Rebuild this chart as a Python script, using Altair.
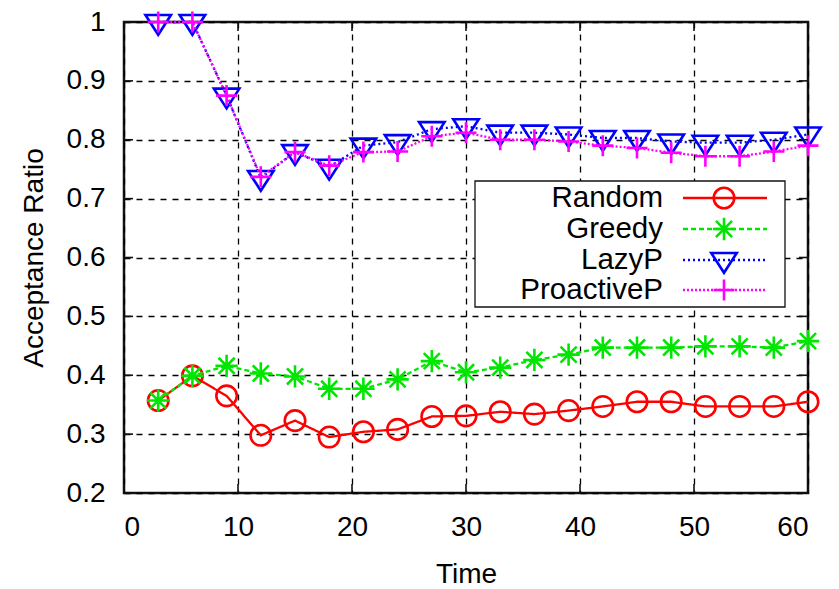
import altair as alt
import pandas as pd

# ---- data -------------------------------------------------------------
time = [3, 6, 9, 12, 15, 18, 21, 24, 27, 30, 33, 36, 39, 42, 45, 48, 51, 54, 57, 60]

random_ratio = [0.357, 0.399, 0.365, 0.298, 0.323, 0.295, 0.304, 0.308, 0.330, 0.331,
                0.338, 0.334, 0.340, 0.347, 0.355, 0.355, 0.347, 0.347, 0.347, 0.355]
greedy_ratio = [0.357, 0.399, 0.416, 0.403, 0.398, 0.377, 0.377, 0.393, 0.424, 0.405,
                0.413, 0.426, 0.435, 0.447, 0.447, 0.447, 0.449, 0.449, 0.447, 0.458]
lazyp_ratio = [1.000, 1.000, 0.875, 0.735, 0.779, 0.754, 0.790, 0.796, 0.818, 0.823,
               0.812, 0.812, 0.809, 0.803, 0.803, 0.797, 0.795, 0.795, 0.800, 0.809]
proactivep_ratio = [1.000, 1.000, 0.875, 0.737, 0.779, 0.756, 0.779, 0.780, 0.806, 0.812,
                    0.800, 0.800, 0.797, 0.790, 0.786, 0.778, 0.772, 0.772, 0.780, 0.790]

series_names = ["Random", "Greedy", "LazyP", "ProactiveP"]
series_values = [random_ratio, greedy_ratio, lazyp_ratio, proactivep_ratio]

x_ticks = [0, 10, 20, 30, 40, 50, 60]
y_ticks = [0.2, 0.3, 0.4, 0.5, 0.6, 0.7, 0.8, 0.9, 1.0]

# ---- layout and styles ------------------------------------------------
W, H = 684, 471
FONT = "Liberation Sans"

STAR = "M-1,0L1,0M0,-1L0,1M-0.72,-0.72L0.72,0.72M-0.72,0.72L0.72,-0.72"
TRI_DOWN = "M-1,-0.55L1,-0.55L0,1Z"
PLUS = "M-1,0L1,0M0,-1L0,1"

styles = {
    "Random": dict(color="#ff0000", dash=[1, 0], shape="circle", size=420),
    "Greedy": dict(color="#00e600", dash=[5, 3], shape=STAR, size=500),
    "LazyP": dict(color="#0000ff", dash=[2, 3], shape=TRI_DOWN, size=650),
    "ProactiveP": dict(color="#ff00ff", dash=[2, 2], shape=PLUS, size=441),
}

x_scale = alt.Scale(domain=[0, 60], nice=False, zero=False)
y_scale = alt.Scale(domain=[0.2, 1.0], nice=False, zero=False)

x_enc = alt.X("Time:Q", scale=x_scale,
              axis=alt.Axis(values=x_ticks, title="Time", labelPadding=20, titlePadding=19))
y_enc = alt.Y("Acceptance Ratio:Q", scale=y_scale,
              axis=alt.Axis(values=y_ticks, format="~g", title="Acceptance Ratio",
                            labelPadding=19, titlePadding=18))

layers = []

# ---- series: line + markers -------------------------------------------
for name, vals in zip(series_names, series_values):
    st = styles[name]
    df = pd.DataFrame({"Time": time, "Acceptance Ratio": vals})
    base = alt.Chart(df).encode(x=x_enc, y=y_enc)
    layers.append(base.mark_line(color=st["color"], strokeDash=st["dash"],
                                 strokeWidth=2.3, clip=False))
    layers.append(base.mark_point(shape=st["shape"], size=st["size"], filled=False,
                                  color=st["color"], strokeWidth=2.6, opacity=1,
                                  clip=False))

# ---- inward tick marks on all four sides ------------------------------
ydf = pd.DataFrame({"Acceptance Ratio": y_ticks})
xdf = pd.DataFrame({"Time": x_ticks})
tick_style = dict(color="#111", strokeWidth=1.6)
layers.append(alt.Chart(ydf).mark_rule(**tick_style).encode(
    y=y_enc, x=alt.value(0), x2=alt.value(9)))
layers.append(alt.Chart(ydf).mark_rule(**tick_style).encode(
    y=y_enc, x=alt.value(W - 9), x2=alt.value(W)))
layers.append(alt.Chart(xdf).mark_rule(**tick_style).encode(
    x=x_enc, y=alt.value(H - 9), y2=alt.value(H)))
layers.append(alt.Chart(xdf).mark_rule(**tick_style).encode(
    x=x_enc, y=alt.value(0), y2=alt.value(9)))

# ---- legend box ---------------------------------------------------------
box_df = pd.DataFrame({"k": [0]})
layers.append(alt.Chart(box_df).mark_rect(fill="white", stroke="#111", strokeWidth=1.3).encode(
    x=alt.value(351), x2=alt.value(661), y=alt.value(159), y2=alt.value(285)))

legend_rows = [176, 207, 238, 268]
for name, row_y in zip(series_names, legend_rows):
    st = styles[name]
    ldf = pd.DataFrame({"name": [name]})
    lc = alt.Chart(ldf)
    layers.append(lc.mark_text(align="right", baseline="middle", font=FONT,
                               fontSize=29.5, color="#000").encode(
        text="name:N", x=alt.value(539), y=alt.value(row_y)))
    layers.append(lc.mark_rule(color=st["color"], strokeDash=st["dash"],
                               strokeWidth=2.3).encode(
        x=alt.value(559), x2=alt.value(643), y=alt.value(row_y)))
    layers.append(lc.mark_point(shape=st["shape"], size=st["size"], filled=False,
                                color=st["color"], strokeWidth=2.6, opacity=1).encode(
        x=alt.value(600), y=alt.value(row_y)))

chart = alt.layer(*layers).properties(
    width=W,
    height=H,
    padding={"left": 124, "top": 22, "right": 31, "bottom": 96},
    autosize=alt.AutoSizeParams(type="none"),
).configure_axis(
    grid=True,
    gridColor="#000",
    gridDash=[6, 6],
    gridWidth=1.3,
    gridOpacity=1,
    domain=False,
    ticks=False,
    tickSize=0,
    labelFont=FONT,
    labelFontSize=28,
    labelColor="#000",
    titleFont=FONT,
    titleFontSize=28,
    titleFontWeight="normal",
    titleColor="#000",
).configure_view(
    stroke="#111",
    strokeWidth=2.5,
)

chart.save("out.html", embed_options={"renderer": "svg", "actions": False})
